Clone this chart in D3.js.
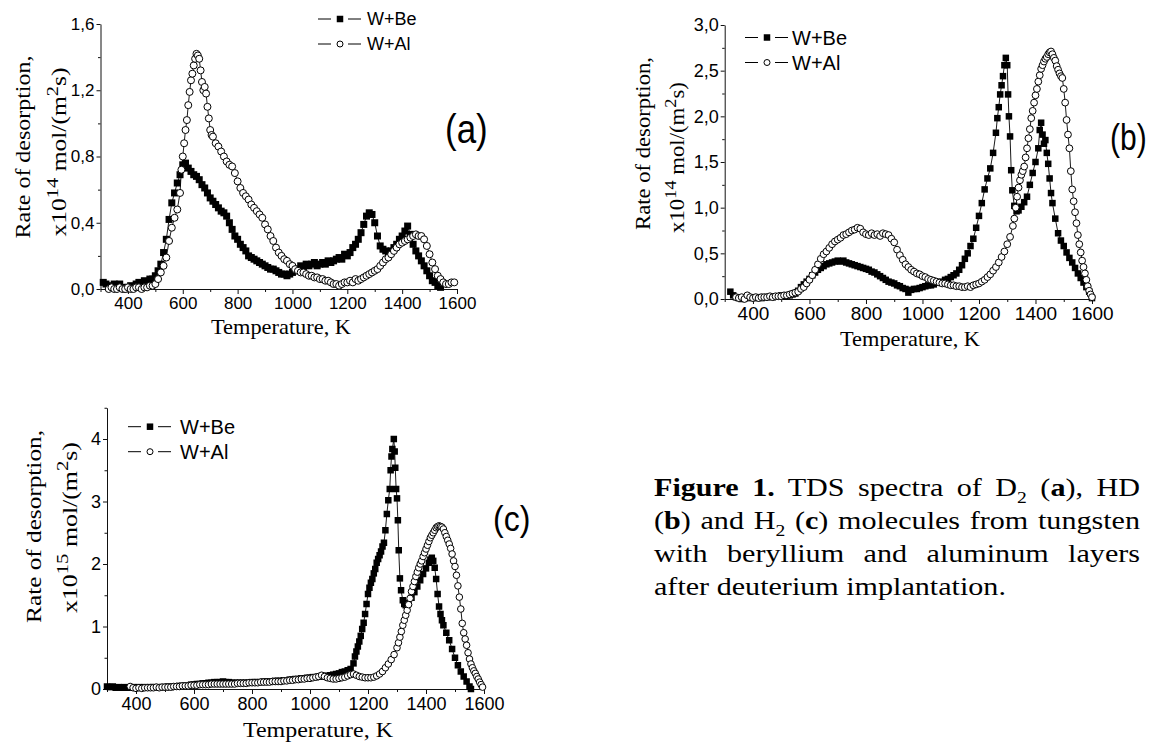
<!DOCTYPE html>
<html>
<head>
<meta charset="utf-8">
<script src="https://cdn.jsdelivr.net/npm/d3@7"></script>
<style>
  body { margin: 0; background: #fff; }
  text { white-space: pre; }
  .tick text { font-family: "Liberation Sans", Arial, sans-serif; }
</style>
</head>
<body>
<svg id="fig" width="1151" height="745"></svg>
<script>
// ---- data: [temperature K, rate] ----
var beA = [[310,0.04],[320,0.03],[330,0.01],[340,0.02],[350,0.03],[360,0.02],[370,0.03],[380,0.01],[390,0.00],[400,0.01],[410,0.02],[420,0.01],[430,0.03],[440,0.04],[450,0.03],[460,0.05],[470,0.04],[480,0.06],[490,0.06],[500,0.08],[510,0.11],[520,0.15],[530,0.22],[540,0.30],[550,0.42],[560,0.52],[570,0.58],[580,0.64],[590,0.69],[600,0.75],[610,0.76],[620,0.73],[630,0.71],[640,0.69],[650,0.68],[660,0.66],[670,0.63],[680,0.61],[690,0.58],[700,0.55],[710,0.53],[720,0.51],[730,0.49],[740,0.47],[750,0.46],[760,0.44],[770,0.40],[780,0.36],[790,0.32],[800,0.30],[810,0.27],[820,0.25],[830,0.23],[840,0.20],[850,0.19],[860,0.18],[870,0.17],[880,0.16],[890,0.15],[900,0.14],[910,0.13],[920,0.12],[930,0.12],[940,0.11],[950,0.10],[960,0.09],[970,0.09],[980,0.08],[990,0.09],[1000,0.10],[1010,0.11],[1020,0.12],[1030,0.14],[1040,0.13],[1050,0.15],[1060,0.14],[1070,0.15],[1080,0.16],[1090,0.14],[1100,0.15],[1110,0.16],[1120,0.15],[1130,0.17],[1140,0.16],[1150,0.17],[1160,0.18],[1170,0.19],[1180,0.18],[1190,0.21],[1200,0.20],[1210,0.22],[1220,0.25],[1230,0.27],[1240,0.30],[1250,0.34],[1260,0.39],[1270,0.44],[1280,0.46],[1290,0.45],[1300,0.40],[1310,0.32],[1320,0.26],[1330,0.24],[1340,0.23],[1350,0.22],[1360,0.23],[1370,0.25],[1380,0.27],[1390,0.30],[1400,0.32],[1410,0.35],[1420,0.38],[1430,0.33],[1440,0.27],[1450,0.23],[1460,0.20],[1470,0.17],[1480,0.14],[1490,0.11],[1500,0.08],[1510,0.05],[1520,0.04],[1530,0.02],[1540,0.01]];

var alA = [[330,0.00],[340,0.01],[350,0.00],[360,0.00],[370,0.01],[380,0.00],[390,0.00],[400,0.01],[410,0.00],[420,0.00],[430,0.01],[440,0.01],[450,0.00],[460,0.01],[470,0.01],[480,0.02],[490,0.02],[500,0.03],[510,0.06],[520,0.10],[530,0.14],[540,0.19],[550,0.29],[560,0.37],[570,0.43],[580,0.48],[590,0.58],[595,0.72],[600,0.80],[605,0.88],[610,0.96],[615,1.02],[620,1.11],[625,1.19],[630,1.26],[635,1.30],[640,1.35],[645,1.39],[650,1.42],[655,1.41],[660,1.39],[665,1.32],[670,1.25],[675,1.20],[680,1.22],[685,1.18],[690,1.10],[695,1.03],[700,0.96],[705,0.93],[710,0.92],[720,0.88],[730,0.86],[740,0.83],[750,0.80],[760,0.77],[770,0.75],[780,0.74],[790,0.70],[800,0.65],[810,0.61],[820,0.58],[830,0.56],[840,0.54],[850,0.51],[860,0.49],[870,0.47],[880,0.45],[890,0.43],[900,0.39],[910,0.36],[920,0.32],[930,0.29],[940,0.25],[950,0.22],[960,0.20],[970,0.18],[980,0.17],[990,0.15],[1000,0.14],[1010,0.12],[1020,0.11],[1030,0.10],[1040,0.10],[1050,0.09],[1060,0.08],[1070,0.08],[1080,0.07],[1090,0.07],[1100,0.06],[1110,0.06],[1120,0.05],[1130,0.05],[1140,0.04],[1150,0.03],[1160,0.03],[1170,0.02],[1180,0.03],[1190,0.04],[1200,0.04],[1210,0.05],[1220,0.04],[1230,0.06],[1240,0.05],[1250,0.06],[1260,0.07],[1270,0.08],[1280,0.09],[1290,0.10],[1300,0.11],[1310,0.12],[1320,0.14],[1330,0.16],[1340,0.18],[1350,0.19],[1360,0.21],[1370,0.23],[1380,0.25],[1390,0.27],[1400,0.28],[1410,0.29],[1420,0.30],[1430,0.31],[1440,0.32],[1450,0.33],[1460,0.32],[1470,0.32],[1480,0.30],[1490,0.26],[1500,0.21],[1510,0.16],[1520,0.12],[1530,0.08],[1540,0.06],[1550,0.04],[1560,0.03],[1570,0.03],[1580,0.04],[1590,0.04]];

var beB = [[320,0.08],[330,0.04],[340,0.02],[350,0.01],[360,0.00],[370,0.01],[380,0.02],[390,0.01],[400,0.02],[410,0.01],[420,0.02],[430,0.01],[440,0.02],[450,0.02],[460,0.03],[470,0.02],[480,0.03],[490,0.03],[500,0.04],[510,0.03],[520,0.04],[530,0.04],[540,0.05],[550,0.06],[560,0.09],[570,0.13],[580,0.16],[590,0.19],[600,0.22],[610,0.26],[620,0.29],[630,0.32],[640,0.34],[650,0.36],[660,0.38],[670,0.39],[680,0.40],[690,0.41],[700,0.42],[710,0.41],[720,0.42],[730,0.40],[740,0.39],[750,0.38],[760,0.37],[770,0.36],[780,0.35],[790,0.34],[800,0.33],[810,0.32],[820,0.30],[830,0.29],[840,0.27],[850,0.25],[860,0.23],[870,0.21],[880,0.19],[890,0.18],[900,0.17],[910,0.15],[920,0.14],[930,0.12],[940,0.11],[950,0.07],[960,0.10],[970,0.11],[980,0.11],[990,0.12],[1000,0.13],[1010,0.14],[1020,0.15],[1030,0.15],[1040,0.16],[1050,0.18],[1060,0.18],[1070,0.19],[1080,0.21],[1090,0.22],[1100,0.24],[1110,0.26],[1120,0.28],[1130,0.32],[1140,0.37],[1150,0.44],[1160,0.50],[1170,0.58],[1180,0.66],[1190,0.78],[1200,0.91],[1210,1.05],[1220,1.20],[1230,1.32],[1240,1.43],[1250,1.60],[1260,1.82],[1265,1.98],[1270,2.10],[1275,2.24],[1280,2.34],[1285,2.44],[1290,2.56],[1295,2.64],[1300,2.56],[1303,2.24],[1306,2.00],[1310,1.78],[1314,1.41],[1318,1.19],[1325,1.02],[1333,0.96],[1340,0.97],[1350,1.01],[1360,1.06],[1370,1.12],[1380,1.25],[1390,1.38],[1400,1.50],[1410,1.65],[1415,1.85],[1420,1.93],[1425,1.80],[1430,1.70],[1435,1.74],[1440,1.60],[1445,1.48],[1450,1.32],[1455,1.16],[1460,1.05],[1470,0.88],[1480,0.72],[1490,0.64],[1500,0.58],[1510,0.51],[1520,0.45],[1530,0.40],[1540,0.34],[1550,0.28],[1560,0.23],[1570,0.18],[1580,0.13],[1590,0.08],[1600,0.01]];

var alB = [[340,0.02],[350,0.01],[360,0.02],[370,0.00],[380,0.04],[390,0.02],[400,0.01],[410,0.02],[420,0.01],[430,0.02],[440,0.02],[450,0.02],[460,0.03],[470,0.02],[480,0.03],[490,0.03],[500,0.03],[510,0.04],[520,0.04],[530,0.05],[540,0.06],[550,0.07],[560,0.08],[570,0.11],[580,0.13],[590,0.17],[600,0.21],[610,0.26],[620,0.32],[630,0.38],[640,0.44],[650,0.49],[660,0.52],[670,0.56],[680,0.60],[690,0.63],[700,0.65],[710,0.67],[720,0.70],[730,0.71],[740,0.73],[750,0.75],[760,0.76],[770,0.78],[780,0.77],[790,0.73],[800,0.71],[810,0.70],[820,0.72],[830,0.70],[840,0.71],[850,0.69],[860,0.72],[870,0.71],[880,0.70],[890,0.66],[900,0.62],[910,0.54],[920,0.48],[930,0.43],[940,0.38],[950,0.35],[960,0.32],[970,0.30],[980,0.28],[990,0.27],[1000,0.25],[1010,0.24],[1020,0.22],[1030,0.21],[1040,0.20],[1050,0.19],[1060,0.18],[1070,0.17],[1080,0.17],[1090,0.16],[1100,0.15],[1110,0.15],[1120,0.14],[1130,0.14],[1140,0.13],[1150,0.13],[1160,0.14],[1170,0.13],[1180,0.15],[1190,0.16],[1200,0.17],[1210,0.19],[1220,0.21],[1230,0.24],[1240,0.27],[1250,0.31],[1260,0.35],[1270,0.40],[1280,0.46],[1290,0.52],[1300,0.60],[1310,0.68],[1320,0.80],[1325,0.88],[1330,1.00],[1335,1.12],[1340,1.22],[1345,1.30],[1350,1.36],[1355,1.40],[1360,1.45],[1365,1.55],[1370,1.65],[1375,1.76],[1380,1.86],[1385,1.98],[1390,2.06],[1395,2.15],[1400,2.23],[1405,2.30],[1410,2.38],[1415,2.45],[1420,2.52],[1425,2.56],[1430,2.60],[1435,2.63],[1440,2.65],[1445,2.68],[1450,2.70],[1455,2.71],[1460,2.68],[1465,2.64],[1470,2.61],[1475,2.55],[1480,2.51],[1485,2.47],[1490,2.44],[1495,2.42],[1500,2.30],[1505,2.15],[1510,1.96],[1515,1.80],[1520,1.65],[1525,1.40],[1530,1.20],[1535,1.07],[1540,0.95],[1545,0.83],[1550,0.70],[1555,0.60],[1560,0.51],[1565,0.42],[1570,0.35],[1575,0.28],[1580,0.21],[1585,0.14],[1590,0.09],[1595,0.05],[1600,0.02]];

var beC = [[300,0.04],[310,0.03],[320,0.04],[330,0.02],[340,0.03],[350,0.02],[360,0.03],[370,0.02],[380,0.02],[390,0.03],[400,0.02],[410,0.03],[420,0.02],[430,0.03],[440,0.02],[450,0.03],[460,0.03],[470,0.02],[480,0.03],[490,0.03],[500,0.03],[510,0.04],[520,0.03],[530,0.04],[540,0.04],[550,0.05],[560,0.05],[570,0.06],[580,0.06],[590,0.07],[600,0.07],[610,0.08],[620,0.08],[630,0.09],[640,0.09],[650,0.10],[660,0.10],[670,0.11],[680,0.11],[690,0.11],[700,0.12],[710,0.11],[720,0.11],[730,0.10],[740,0.10],[750,0.10],[760,0.10],[770,0.10],[780,0.10],[790,0.10],[800,0.11],[810,0.11],[820,0.11],[830,0.11],[840,0.12],[850,0.12],[860,0.12],[870,0.12],[880,0.13],[890,0.13],[900,0.13],[910,0.14],[920,0.14],[930,0.15],[940,0.15],[950,0.16],[960,0.16],[970,0.17],[980,0.17],[990,0.18],[1000,0.18],[1010,0.19],[1020,0.19],[1030,0.20],[1040,0.20],[1050,0.21],[1060,0.21],[1070,0.22],[1080,0.23],[1090,0.24],[1100,0.25],[1110,0.27],[1120,0.28],[1130,0.30],[1140,0.32],[1150,0.41],[1155,0.52],[1160,0.60],[1165,0.68],[1170,0.76],[1175,0.85],[1180,0.96],[1185,1.06],[1190,1.20],[1195,1.36],[1200,1.52],[1205,1.62],[1210,1.70],[1215,1.76],[1220,1.85],[1225,1.92],[1230,2.02],[1235,2.08],[1240,2.14],[1245,2.20],[1250,2.28],[1255,2.34],[1260,2.54],[1265,2.80],[1270,3.02],[1275,3.20],[1278,3.50],[1281,3.72],[1284,3.84],[1289,4.00],[1292,3.80],[1294,3.54],[1297,3.20],[1300,3.05],[1303,2.70],[1306,2.22],[1310,1.77],[1314,1.58],[1320,1.42],[1325,1.36],[1330,1.34],[1340,1.38],[1350,1.46],[1360,1.55],[1370,1.64],[1380,1.74],[1390,1.84],[1400,1.93],[1410,2.02],[1415,2.07],[1420,2.10],[1425,2.05],[1430,1.94],[1435,1.76],[1440,1.52],[1445,1.32],[1450,1.20],[1455,1.10],[1460,1.02],[1470,0.90],[1480,0.78],[1490,0.64],[1500,0.50],[1510,0.38],[1520,0.28],[1530,0.20],[1540,0.12],[1550,0.04],[1555,0.00]];

var alC = [[380,0.04],[390,0.02],[400,0.01],[410,0.02],[420,0.01],[430,0.02],[440,0.02],[450,0.02],[460,0.02],[470,0.03],[480,0.02],[490,0.03],[500,0.03],[510,0.03],[520,0.03],[530,0.04],[540,0.04],[550,0.04],[560,0.05],[570,0.05],[580,0.05],[590,0.06],[600,0.06],[610,0.06],[620,0.07],[630,0.07],[640,0.07],[650,0.07],[660,0.08],[670,0.08],[680,0.08],[690,0.08],[700,0.08],[710,0.08],[720,0.08],[730,0.08],[740,0.08],[750,0.09],[760,0.09],[770,0.09],[780,0.09],[790,0.10],[800,0.10],[810,0.10],[820,0.10],[830,0.11],[840,0.11],[850,0.11],[860,0.11],[870,0.12],[880,0.12],[890,0.12],[900,0.12],[910,0.13],[920,0.13],[930,0.14],[940,0.14],[950,0.15],[960,0.15],[970,0.16],[980,0.16],[990,0.17],[1000,0.17],[1010,0.18],[1020,0.19],[1030,0.20],[1040,0.22],[1050,0.20],[1060,0.18],[1070,0.17],[1080,0.16],[1090,0.16],[1100,0.17],[1110,0.18],[1120,0.19],[1130,0.21],[1140,0.23],[1150,0.24],[1160,0.22],[1170,0.20],[1180,0.19],[1190,0.18],[1200,0.18],[1210,0.18],[1220,0.19],[1230,0.21],[1240,0.24],[1250,0.28],[1260,0.34],[1270,0.40],[1280,0.47],[1290,0.55],[1300,0.66],[1305,0.74],[1310,0.83],[1315,0.92],[1320,1.02],[1325,1.10],[1330,1.18],[1335,1.26],[1340,1.35],[1345,1.45],[1350,1.56],[1355,1.64],[1360,1.72],[1365,1.80],[1370,1.87],[1375,1.94],[1380,2.00],[1385,2.05],[1390,2.12],[1395,2.18],[1400,2.24],[1405,2.30],[1410,2.36],[1415,2.42],[1420,2.46],[1425,2.50],[1430,2.54],[1435,2.58],[1440,2.60],[1445,2.61],[1450,2.60],[1455,2.59],[1460,2.56],[1465,2.50],[1470,2.44],[1475,2.38],[1480,2.32],[1485,2.25],[1490,2.16],[1495,2.05],[1500,1.96],[1505,1.82],[1510,1.65],[1515,1.47],[1520,1.28],[1525,1.05],[1530,0.90],[1535,0.80],[1540,0.70],[1545,0.58],[1550,0.48],[1555,0.40],[1560,0.34],[1565,0.29],[1570,0.25],[1575,0.20],[1580,0.16],[1585,0.11],[1590,0.07],[1595,0.03]];

// ---- ticks and labels ----
var xMajor = [400, 600, 800, 1000, 1200, 1400, 1600];
var xMinor = [300, 500, 700, 900, 1100, 1300, 1500];
var yMajorA = [0, 0.4, 0.8, 1.2, 1.6], yMinorA = [0.2, 0.6, 1.0, 1.4];
var yMajorB = [0, 0.5, 1.0, 1.5, 2.0, 2.5, 3.0], yMinorB = [0.25, 0.75, 1.25, 1.75, 2.25, 2.75];
var yMajorC = [0, 1, 2, 3, 4], yMinorC = [0.5, 1.5, 2.5, 3.5, 4.5];
var seriesNames = ["W+Be", "W+Al"];
var panelTags = ["(a)", "(b)", "(c)"];
var powers = ["14", "14", "15"];

var serif = '"Liberation Serif", "Times New Roman", serif';
var sans = '"Liberation Sans", Arial, sans-serif';
var svg = d3.select("#fig");

var comma1 = function(d) { return d3.format(".1f")(d).replace(".", ","); };

// layout of each panel (pixel positions)
var panels = [
  { be: beA, al: alA, xr: [100.5, 457], yr: [289, 24], ymax: 1.6,
    yMajor: yMajorA, yMinor: yMinorA, fmt: comma1, tickFs: 17, ytickFs: 17,
    leg: { x: 318, rows: [19, 44], fs: 18, txt: 49, sq: 6.5, r: 3 },
    tag: { x: 445, y: 143, fs: 35, sy: 1.15 },
    xt: { x: 281, y: 334, len: 140, fs: 22 },
    yt1: { x: 30, y: 147, len: 183, fs: 20 }, yt2: { x: 66, y: 152, len: 169, fs: 20 },
    sq: 7, r: 3.5 },
  { be: beB, al: alB, xr: [724.7, 1092], yr: [299, 25], ymax: 3.0,
    yMajor: yMajorB, yMinor: yMinorB, fmt: comma1, tickFs: 19, ytickFs: 18,
    leg: { x: 745, rows: [37.5, 62.5], fs: 20, txt: 47, sq: 6.5, r: 3 },
    tag: { x: 1110, y: 150, fs: 30, sy: 1.25 },
    xt: { x: 910, y: 346, len: 140, fs: 22 },
    yt1: { x: 650, y: 143.5, len: 173, fs: 20 }, yt2: { x: 684, y: 157.5, len: 151, fs: 20 },
    sq: 6.5, r: 3.4 },
  { be: beC, al: alC, xr: [107, 484], yr: [689, 407.75], ymax: 4.5,
    yMajor: yMajorC, yMinor: yMinorC, fmt: d3.format("d"), tickFs: 18, ytickFs: 18,
    leg: { x: 128, rows: [426.7, 451.7], fs: 20, txt: 52, sq: 6.5, r: 3 },
    tag: { x: 493, y: 531, fs: 32, sy: 1.1 },
    xt: { x: 318, y: 737, len: 150, fs: 22 },
    yt1: { x: 41, y: 526.5, len: 193, fs: 21 }, yt2: { x: 77, y: 527.5, len: 171, fs: 21 },
    sq: 6.5, r: 3.3 }
];

// text with super/subscript parts
function richText(g, parts, fs) {
  var t = g.append("text").attr("font-size", fs);
  var shift = 0;
  parts.forEach(function(p) {
    var target = p.sup ? -0.42 * fs : (p.sub ? 0.28 * fs : 0);
    var ts = t.append("tspan").text(p.t).attr("dy", target - shift);
    if (p.sup || p.sub) ts.attr("font-size", fs * (p.sub ? 0.65 : 0.8));
    if (p.bold) ts.attr("font-weight", "bold");
    shift = target;
  });
  return t;
}

// stretch a text along its own direction to a wanted length
function fitTitle(t, o, rotated) {
  var w = t.node().getComputedTextLength();
  var s = o.len / w;
  t.attr("text-anchor", "middle")
    .attr("transform", "translate(" + o.x + "," + o.y + ")" + (rotated ? " rotate(-90)" : "") + " scale(" + s + ",1)");
}

panels.forEach(function(p, i) {
  var x = d3.scaleLinear().domain([300, 1600]).range(p.xr);
  var y = d3.scaleLinear().domain([0, p.ymax]).range(p.yr);
  var g = svg.append("g");

  // axes: major + minor ticks
  var xAxis = g.append("g").attr("transform", "translate(0," + p.yr[0] + ")")
    .call(d3.axisBottom(x).tickValues(xMajor).tickSize(5).tickSizeOuter(0).tickPadding(3).tickFormat(d3.format("d")));
  g.append("g").attr("transform", "translate(0," + p.yr[0] + ")")
    .call(d3.axisBottom(x).tickValues(xMinor).tickSize(3).tickSizeOuter(0).tickFormat(""))
    .select(".domain").remove();
  var yAxis = g.append("g").attr("transform", "translate(" + p.xr[0] + ",0)")
    .call(d3.axisLeft(y).tickValues(p.yMajor).tickSize(4).tickSizeOuter(0).tickPadding(2).tickFormat(p.fmt));
  g.append("g").attr("transform", "translate(" + p.xr[0] + ",0)")
    .call(d3.axisLeft(y).tickValues(p.yMinor).tickSize(2.5).tickSizeOuter(0).tickFormat(""))
    .select(".domain").remove();
  g.selectAll(".domain, .tick line").attr("stroke", "#111").attr("stroke-width", 1);
  xAxis.attr("font-family", null).attr("font-size", null)
    .selectAll("text").attr("font-size", p.tickFs).attr("fill", "#000");
  yAxis.attr("font-family", null).attr("font-size", null)
    .selectAll("text").attr("font-size", p.ytickFs).attr("fill", "#000");

  // series: W+Be squares, W+Al open circles
  var line = d3.line().x(function(d) { return x(d[0]); }).y(function(d) { return y(d[1]); });
  g.append("path").datum(p.be).attr("d", line)
    .attr("fill", "none").attr("stroke", "#000").attr("stroke-width", 0.9);
  g.append("g").selectAll("rect").data(p.be).enter().append("rect")
    .attr("x", function(d) { return x(d[0]) - p.sq / 2; })
    .attr("y", function(d) { return y(d[1]) - p.sq / 2; })
    .attr("width", p.sq).attr("height", p.sq).attr("fill", "#000");
  g.append("path").datum(p.al).attr("d", line)
    .attr("fill", "none").attr("stroke", "#000").attr("stroke-width", 0.9);
  g.append("g").selectAll("circle").data(p.al).enter().append("circle")
    .attr("cx", function(d) { return x(d[0]); })
    .attr("cy", function(d) { return y(d[1]); })
    .attr("r", p.r).attr("fill", "#fff").attr("stroke", "#000").attr("stroke-width", 1);

  // legend
  var L = p.leg;
  L.rows.forEach(function(ry, k) {
    g.append("line").attr("x1", L.x).attr("x2", L.x + 13).attr("y1", ry).attr("y2", ry).attr("stroke", "#000");
    g.append("line").attr("x1", L.x + 30).attr("x2", L.x + 43).attr("y1", ry).attr("y2", ry).attr("stroke", "#000");
    if (k === 0) {
      g.append("rect").attr("x", L.x + 22 - L.sq / 2).attr("y", ry - L.sq / 2)
        .attr("width", L.sq).attr("height", L.sq).attr("fill", "#000");
    } else {
      g.append("circle").attr("cx", L.x + 22).attr("cy", ry).attr("r", L.r)
        .attr("fill", "#fff").attr("stroke", "#000");
    }
    g.append("text").attr("x", L.x + L.txt).attr("y", ry + 0.35 * L.fs)
      .attr("font-family", sans).attr("font-size", L.fs).text(seriesNames[k]);
  });

  // panel tag
  g.append("text").attr("font-family", sans).attr("font-size", p.tag.fs)
    .attr("transform", "translate(" + p.tag.x + "," + p.tag.y + ") scale(1," + p.tag.sy + ")")
    .text(panelTags[i]);

  // axis titles
  var tg = g.append("g").attr("font-family", serif).attr("fill", "#000");
  fitTitle(richText(tg, [{ t: "Temperature, K" }], p.xt.fs), p.xt, false);
  fitTitle(richText(tg, [{ t: "Rate of desorption," }], p.yt1.fs), p.yt1, true);
  fitTitle(richText(tg, [{ t: "x10" }, { t: powers[i], sup: true }, { t: " mol/(m" }, { t: "2", sup: true }, { t: "s)" }], p.yt2.fs), p.yt2, true);
});

// ---- caption ----
var capLines = [
  [{ t: "Figure 1.", bold: true }, { t: " TDS spectra of D" }, { t: "2", sub: true }, { t: " (" }, { t: "a", bold: true }, { t: "), HD" }],
  [{ t: "(" }, { t: "b", bold: true }, { t: ") and H" }, { t: "2", sub: true }, { t: " (" }, { t: "c", bold: true }, { t: ") molecules from tungsten" }],
  [{ t: "with beryllium and aluminum layers" }],
  [{ t: "after deuterium implantation." }]
];
var capBase = [496, 529, 562, 595];
var capX = 654, capW = 486, lastW = 352, capFs = 26;

var cap = svg.append("g").attr("font-family", serif).attr("fill", "#000");
var capText = capLines.map(function(parts, k) {
  return richText(cap, parts, capFs).attr("y", capBase[k]);
});
var sx = lastW / capText[3].node().getComputedTextLength();
cap.attr("transform", "translate(" + capX + ",0) scale(" + sx + ",1)");
capText.forEach(function(t, k) {
  if (k === 3) return;
  var w = t.node().getComputedTextLength();
  var n = capLines[k].map(function(p) { return p.t; }).join("").split(" ").length - 1;
  t.style("word-spacing", ((capW / sx - w) / n) + "px");
});
</script>
</body>
</html>
